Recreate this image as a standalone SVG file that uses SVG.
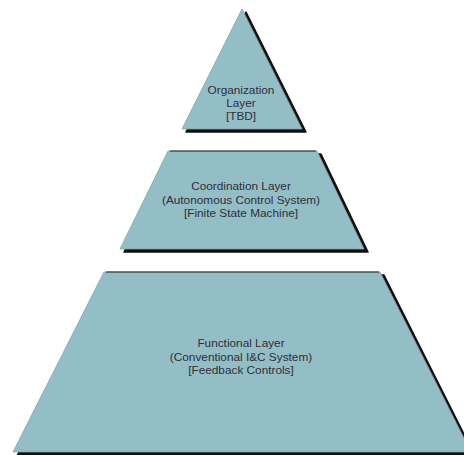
<svg xmlns="http://www.w3.org/2000/svg" width="464" height="455" viewBox="0 0 464 455">
<style>
.sh{fill:#111;stroke:#111;stroke-width:1.5;stroke-linejoin:round}
.bd{fill:#94bec5;stroke:#8a9fa3;stroke-width:0.8;stroke-linejoin:round}
.tp{stroke:#222;stroke-width:1.2;fill:none}
.lb{font-family:"Liberation Sans",Arial,sans-serif;font-size:11.8px;fill:#2e2e3c;text-anchor:middle}
</style>
<rect width="464" height="455" fill="#fff"/>
<g id="organization">
<polygon class="sh" points="246,12 306,132 186,132"/>
<polygon class="bd" points="242,9 302,129 182,129"/>
<text class="lb" x="241" y="94">Organization</text>
<text class="lb" x="241" y="107">Layer</text>
<text class="lb" x="241" y="120">[TBD]</text>
</g>
<g id="coordination">
<polygon class="sh" points="172,154 321,154 368,252 124,252"/>
<polygon class="bd" points="168,151 317,151 364,249 120,249"/>
<line class="tp" x1="170" y1="151" x2="316" y2="151"/>
<text class="lb" x="241" y="190">Coordination Layer</text>
<text class="lb" x="241" y="203.5">(Autonomous Control System)</text>
<text class="lb" x="241" y="217">[Finite State Machine]</text>
</g>
<g id="functional">
<polygon class="sh" points="108,275 384,275 475,456 17,456"/>
<polygon class="bd" points="104,272 380,272 471,452 13,452"/>
<line class="tp" x1="106" y1="272" x2="379" y2="272"/>
<text class="lb" x="241" y="347">Functional Layer</text>
<text class="lb" x="241" y="360.5">(Conventional I&amp;C System)</text>
<text class="lb" x="241" y="374">[Feedback Controls]</text>
</g>
<g id="connectors"></g>
</svg>
